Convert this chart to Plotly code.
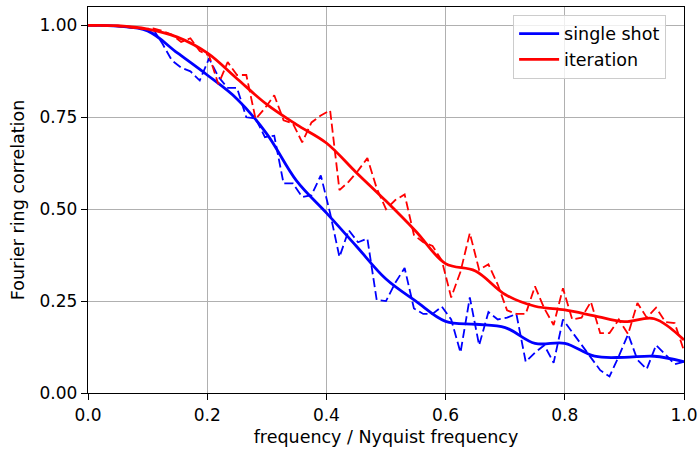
import numpy as np
import plotly.graph_objects as go

# ---- data ----
freq_raw = np.linspace(0, 1, 65)
single_raw = [1.000, 1.000, 0.999, 0.998, 0.996, 0.993, 0.990, 0.990, 0.950, 0.905,
              0.885, 0.875, 0.850, 0.910, 0.860, 0.830, 0.830, 0.750, 0.747, 0.696,
              0.700, 0.570, 0.570, 0.533, 0.538, 0.592, 0.489, 0.370, 0.443, 0.410,
              0.420, 0.253, 0.250, 0.300, 0.340, 0.230, 0.215, 0.215, 0.235, 0.200,
              0.110, 0.260, 0.130, 0.220, 0.200, 0.205, 0.215, 0.085, 0.110, 0.130,
              0.082, 0.200, 0.165, 0.130, 0.098, 0.062, 0.045, 0.100, 0.160, 0.090,
              0.065, 0.130, 0.105, 0.078, 0.085]
iter_raw = [1.000, 1.000, 0.999, 0.998, 0.996, 0.994, 0.990, 0.992, 0.985, 0.975,
            0.955, 0.965, 0.930, 0.918, 0.840, 0.900, 0.865, 0.865, 0.745, 0.775,
            0.810, 0.742, 0.733, 0.682, 0.736, 0.755, 0.769, 0.552, 0.575, 0.605,
            0.639, 0.557, 0.500, 0.525, 0.540, 0.430, 0.410, 0.400, 0.360, 0.260,
            0.330, 0.435, 0.335, 0.350, 0.295, 0.225, 0.215, 0.215, 0.290, 0.230,
            0.185, 0.285, 0.200, 0.205, 0.248, 0.163, 0.163, 0.200, 0.160, 0.245,
            0.205, 0.232, 0.193, 0.190, 0.115]

freq_smooth = np.linspace(0, 1, 21)
single_smooth = [1.000, 0.998, 0.985, 0.925, 0.865, 0.800, 0.705, 0.577, 0.490, 0.400,
                 0.310, 0.250, 0.195, 0.187, 0.178, 0.135, 0.135, 0.100, 0.097, 0.100, 0.085]
iter_smooth = [1.000, 0.999, 0.990, 0.968, 0.925, 0.855, 0.785, 0.730, 0.680, 0.600,
               0.522, 0.440, 0.352, 0.332, 0.268, 0.236, 0.226, 0.210, 0.194, 0.202, 0.144]

series_names = ["single shot", "iteration"]
x_ticks = [0.0, 0.2, 0.4, 0.6, 0.8, 1.0]
y_ticks = [0.0, 0.25, 0.5, 0.75, 1.0]

BLUE = "#0000ff"
RED = "#ff0000"
FONT = "DejaVu Sans"

fig = go.Figure()
fig.add_trace(go.Scatter(x=freq_raw, y=single_raw, mode="lines", showlegend=False,
                         line=dict(color=BLUE, width=1.8, dash="9px,4px")))
fig.add_trace(go.Scatter(x=freq_smooth, y=single_smooth, mode="lines", name=series_names[0],
                         line=dict(color=BLUE, width=2.8, shape="spline", smoothing=1.0)))
fig.add_trace(go.Scatter(x=freq_raw, y=iter_raw, mode="lines", showlegend=False,
                         line=dict(color=RED, width=1.8, dash="9px,4px")))
fig.add_trace(go.Scatter(x=freq_smooth, y=iter_smooth, mode="lines", name=series_names[1],
                         line=dict(color=RED, width=2.8, shape="spline", smoothing=1.0)))

axis_common = dict(
    showline=True, mirror=True, linecolor="black", linewidth=1.4,
    showgrid=True, gridcolor="#b0b0b0", gridwidth=1.4,
    ticks="outside", ticklen=6, tickwidth=1.4, tickcolor="black",
    zeroline=False, automargin=False,
    tickfont=dict(family=FONT, size=17, color="black"),
)

fig.update_layout(
    width=698, height=450,
    margin=dict(l=88, r=14, t=7, b=57),
    paper_bgcolor="white", plot_bgcolor="white",
    font=dict(family=FONT, size=17, color="black"),
    xaxis=dict(range=[0, 1], tickvals=x_ticks, tickformat=".1f",
               title=dict(text="frequency / Nyquist frequency", standoff=7,
                          font=dict(family=FONT, size=17.5)),
               **axis_common),
    yaxis=dict(range=[0, 1.05], tickvals=y_ticks, tickformat=".2f",
               title=dict(text="Fourier ring correlation", standoff=10,
                          font=dict(family=FONT, size=17.5)),
               **axis_common),
    legend=dict(x=0.97, y=0.98, xanchor="right", yanchor="top",
                bgcolor="rgba(255,255,255,0.8)", bordercolor="#cccccc", borderwidth=1,
                itemwidth=40, font=dict(family=FONT, size=17.5)),
    showlegend=True,
)

fig.write_html("out.html", config={"displayModeBar": False},
               post_script="document.body.style.margin='0';document.body.style.overflow='hidden';")
